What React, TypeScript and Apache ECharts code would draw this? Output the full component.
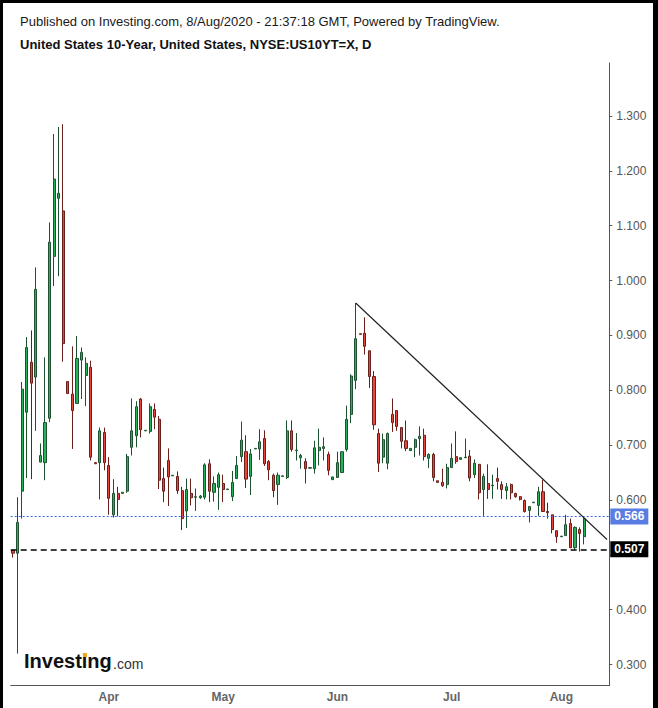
import React, { useEffect, useRef } from "react";
import * as echarts from "echarts";

// Daily bars of the US 10-Year yield
const OPEN = [
  0.508, 0.503, 0.616, 0.760, 0.851, 0.824, 0.669, 0.668, 0.749, 1.044,
  1.150, 1.127, 0.816, 0.793, 0.776, 0.855, 0.827, 0.842, 0.668, 0.668,
  0.723, 0.663, 0.573, 0.612, 0.612, 0.616, 0.696, 0.717, 0.784, 0.726,
  0.725, 0.765, 0.747, 0.639, 0.672, 0.644, 0.643, 0.617, 0.580, 0.612,
  0.605, 0.604, 0.605, 0.666, 0.614, 0.623, 0.630, 0.619, 0.606, 0.639,
  0.679, 0.688, 0.643, 0.693, 0.693, 0.712, 0.670, 0.645, 0.628, 0.643,
  0.641, 0.726, 0.690, 0.677, 0.670, 0.658, 0.657, 0.690, 0.694, 0.683,
  0.637, 0.641, 0.650, 0.692, 0.756, 0.818, 0.903, 0.904, 0.872, 0.825,
  0.721, 0.678, 0.667, 0.756, 0.763, 0.732, 0.708, 0.690, 0.696, 0.712,
  0.718, 0.676, 0.683, 0.635, 0.632, 0.628, 0.659, 0.679, 0.674, 0.677,
  0.680, 0.646, 0.665, 0.619, 0.630, 0.626, 0.639, 0.628, 0.617, 0.628,
  0.612, 0.606, 0.599, 0.581, 0.595, 0.590, 0.615, 0.579, 0.573, 0.544,
  0.533, 0.535, 0.557, 0.513, 0.546, 0.533,
];
const CLOSE = [
  0.503, 0.559, 0.802, 0.878, 0.813, 0.984, 0.681, 0.741, 1.070, 1.185,
  1.159, 0.885, 0.794, 0.763, 0.858, 0.869, 0.849, 0.678, 0.666, 0.726,
  0.668, 0.603, 0.612, 0.601, 0.614, 0.679, 0.726, 0.770, 0.728, 0.727,
  0.770, 0.751, 0.636, 0.616, 0.642, 0.645, 0.617, 0.566, 0.619, 0.604,
  0.606, 0.607, 0.664, 0.616, 0.630, 0.646, 0.619, 0.620, 0.632, 0.663,
  0.709, 0.638, 0.684, 0.694, 0.706, 0.666, 0.655, 0.617, 0.645, 0.644,
  0.726, 0.692, 0.691, 0.681, 0.657, 0.659, 0.695, 0.696, 0.697, 0.654,
  0.642, 0.668, 0.688, 0.747, 0.826, 0.894, 0.902, 0.880, 0.825, 0.737,
  0.667, 0.710, 0.721, 0.741, 0.734, 0.707, 0.694, 0.694, 0.710, 0.716,
  0.679, 0.683, 0.641, 0.632, 0.626, 0.659, 0.676, 0.670, 0.677, 0.678,
  0.640, 0.667, 0.613, 0.643, 0.619, 0.627, 0.634, 0.619, 0.624, 0.613,
  0.606, 0.601, 0.579, 0.588, 0.596, 0.615, 0.579, 0.577, 0.546, 0.533,
  0.534, 0.555, 0.513, 0.550, 0.539, 0.566,
];
const LOW = [
  0.495, 0.320, 0.566, 0.640, 0.638, 0.726, 0.669, 0.636, 0.742, 0.990,
  1.008, 0.852, 0.794, 0.693, 0.776, 0.784, 0.771, 0.672, 0.666, 0.601,
  0.654, 0.573, 0.568, 0.570, 0.612, 0.613, 0.681, 0.696, 0.714, 0.726,
  0.721, 0.729, 0.620, 0.596, 0.589, 0.644, 0.611, 0.545, 0.549, 0.590,
  0.580, 0.602, 0.601, 0.596, 0.597, 0.582, 0.596, 0.619, 0.598, 0.639,
  0.669, 0.622, 0.609, 0.693, 0.673, 0.662, 0.636, 0.605, 0.591, 0.643,
  0.638, 0.688, 0.672, 0.657, 0.630, 0.658, 0.648, 0.663, 0.672, 0.645,
  0.637, 0.641, 0.650, 0.688, 0.740, 0.802, 0.902, 0.865, 0.804, 0.728,
  0.651, 0.667, 0.656, 0.724, 0.726, 0.694, 0.689, 0.690, 0.678, 0.681,
  0.672, 0.658, 0.634, 0.632, 0.624, 0.621, 0.659, 0.666, 0.674, 0.677,
  0.634, 0.640, 0.601, 0.571, 0.602, 0.602, 0.619, 0.602, 0.601, 0.601,
  0.604, 0.599, 0.577, 0.559, 0.595, 0.571, 0.579, 0.566, 0.539, 0.522,
  0.533, 0.535, 0.512, 0.510, 0.506, 0.519,
];
const HIGH = [
  0.509, 0.605, 0.815, 0.897, 0.909, 1.024, 0.703, 0.860, 1.106, 1.267,
  1.280, 1.285, 0.816, 0.880, 0.899, 0.878, 0.860, 0.854, 0.668, 0.732,
  0.732, 0.678, 0.638, 0.624, 0.614, 0.684, 0.785, 0.780, 0.786, 0.727,
  0.776, 0.776, 0.753, 0.659, 0.694, 0.645, 0.652, 0.624, 0.639, 0.639,
  0.621, 0.609, 0.667, 0.674, 0.643, 0.650, 0.646, 0.620, 0.653, 0.680,
  0.743, 0.718, 0.693, 0.694, 0.729, 0.727, 0.673, 0.648, 0.650, 0.644,
  0.745, 0.745, 0.722, 0.684, 0.676, 0.659, 0.708, 0.730, 0.714, 0.688,
  0.642, 0.688, 0.688, 0.772, 0.829, 0.959, 0.903, 0.933, 0.872, 0.835,
  0.730, 0.721, 0.723, 0.785, 0.763, 0.732, 0.745, 0.694, 0.712, 0.734,
  0.730, 0.685, 0.686, 0.635, 0.657, 0.666, 0.703, 0.725, 0.677, 0.712,
  0.691, 0.674, 0.665, 0.648, 0.665, 0.646, 0.659, 0.634, 0.631, 0.630,
  0.613, 0.607, 0.601, 0.588, 0.596, 0.624, 0.637, 0.595, 0.573, 0.544,
  0.534, 0.573, 0.566, 0.552, 0.550, 0.570,
];

// Bar slots on the time axis (the last ones are empty space after the latest bar)
const SLOT_COUNT = 131;
const CATEGORIES = Array.from({ length: SLOT_COUNT }, (_, i) => String(i));
const MONTH_LABELS = ["Apr", "May", "Jun", "Jul", "Aug"];
const MONTH_INDEX = [21, 46, 71, 96, 120];

// Price scale ticks; 0.500 is hidden behind the 0.507 level box in the reference
const Y_TICKS = [0.3, 0.4, 0.5, 0.6, 0.7, 0.8, 0.9, 1.0, 1.1, 1.2, 1.3];
const Y_LABELS = [0.3, 0.4, 0.6, 0.7, 0.8, 0.9, 1.0, 1.1, 1.2, 1.3];
const Y_MIN = 0.2614;
const Y_MAX = 1.3966;

const LAST_PRICE = 0.566;
const SUPPORT_LEVEL = 0.507;
const TREND_START = [75, 0.959];
const TREND_END = [130, 0.528];

const TITLE_1 = "Published on Investing.com, 8/Aug/2020 - 21:37:18 GMT, Powered by TradingView.";
const TITLE_2 = "United States 10-Year, United States, NYSE:US10YT=X, D";

const FONT = "'Liberation Sans', Arial, Helvetica, sans-serif";

export default function App() {
  const ref = useRef<HTMLDivElement>(null);

  useEffect(() => {
    if (!ref.current) return;
    const chart = echarts.init(ref.current, null, { renderer: "svg", width: 658, height: 708 });
    const data = OPEN.map((o, i) => [o, CLOSE[i], LOW[i], HIGH[i]]);

    const option: any = {
      animation: false,
      backgroundColor: "transparent",
      textStyle: { fontFamily: FONT },
      grid: { left: 10.7, top: 63, width: 598.6, height: 622.7, containLabel: false },
      xAxis: {
        type: "category",
        data: CATEGORIES,
        boundaryGap: true,
        axisLine: { lineStyle: { color: "#555", width: 1 } },
        axisTick: {
          alignWithLabel: true,
          interval: (i: number) => MONTH_INDEX.includes(i),
          length: 3,
          lineStyle: { color: "#555" },
        },
        axisLabel: {
          interval: (i: number) => MONTH_INDEX.includes(i),
          formatter: (_v: string, i: number) => {
            const k = MONTH_INDEX.indexOf(i);
            return k >= 0 ? MONTH_LABELS[k] : "";
          },
          color: "#666",
          fontWeight: "bold",
          fontSize: 12,
          fontFamily: FONT,
          margin: 5,
        },
        splitLine: { show: false },
      },
      yAxis: {
        type: "value",
        position: "right",
        min: Y_MIN,
        max: Y_MAX,
        scale: true,
        axisLine: { show: true, lineStyle: { color: "#555", width: 1 } },
        axisTick: { show: true, length: 3, customValues: Y_TICKS, lineStyle: { color: "#555" } },
        axisLabel: {
          customValues: Y_LABELS,
          formatter: (v: number) => v.toFixed(3),
          color: "#555",
          fontSize: 12,
          fontFamily: FONT,
          margin: 7,
        },
        splitLine: { show: false },
      },
      series: [
        {
          type: "candlestick",
          data,
          barWidth: 2.6,
          itemStyle: {
            color: "#27b25a",
            color0: "#e8453c",
            borderColor: "#1d5230",
            borderColor0: "#6b1f1a",
            borderWidth: 1,
          },
          markLine: {
            silent: true,
            symbol: ["none", "none"],
            animation: false,
            data: [
              {
                yAxis: LAST_PRICE,
                lineStyle: { color: "#3b64e6", type: [2, 2], width: 1 },
                label: {
                  show: true,
                  position: "end",
                  formatter: LAST_PRICE.toFixed(3),
                  backgroundColor: "#5a7de3",
                  color: "#fff",
                  fontWeight: "bold",
                  fontSize: 12,
                  fontFamily: FONT,
                  lineHeight: 14,
                  padding: [1, 4, 1, 4],
                  distance: 1,
                },
              },
              {
                yAxis: SUPPORT_LEVEL,
                lineStyle: { color: "#000", type: [6, 4], width: 1.5 },
                label: {
                  show: true,
                  position: "end",
                  formatter: SUPPORT_LEVEL.toFixed(3),
                  backgroundColor: "#000",
                  color: "#fff",
                  fontWeight: "bold",
                  fontSize: 12,
                  fontFamily: FONT,
                  lineHeight: 14,
                  padding: [1, 4, 1, 4],
                  distance: 1,
                },
              },
              [
                {
                  coord: TREND_START,
                  lineStyle: { color: "#222", type: "solid", width: 1.2 },
                  label: { show: false },
                },
                { coord: TREND_END },
              ],
            ],
          },
        },
      ],
      graphic: [
        {
          type: "text",
          left: 20,
          top: 15,
          style: { text: TITLE_1, font: `13px ${FONT}`, fill: "#1a1a1a" },
        },
        {
          type: "text",
          left: 20,
          top: 38,
          style: { text: TITLE_2, font: `bold 13px ${FONT}`, fill: "#111" },
        },
        {
          type: "text",
          left: 24,
          top: 651,
          style: { text: "Investing", font: `bold 20px ${FONT}`, fill: "#111" },
        },
        {
          type: "text",
          left: 113,
          top: 657,
          style: { text: ".com", font: `14px ${FONT}`, fill: "#333" },
        },
        {
          type: "rect",
          left: 83,
          top: 653,
          shape: { width: 4, height: 4 },
          style: { fill: "#f5a623" },
        },
      ],
    };

    chart.setOption(option);
    return () => chart.dispose();
  }, []);

  return (
    <div style={{ position: "fixed", left: 0, top: 0, width: 658, height: 708, background: "#000" }}>
      <div style={{ position: "absolute", left: 3, top: 3, width: 650, height: 705, background: "#fff" }} />
      <div ref={ref} style={{ position: "absolute", left: 0, top: 0, width: 658, height: 708 }} />
    </div>
  );
}
